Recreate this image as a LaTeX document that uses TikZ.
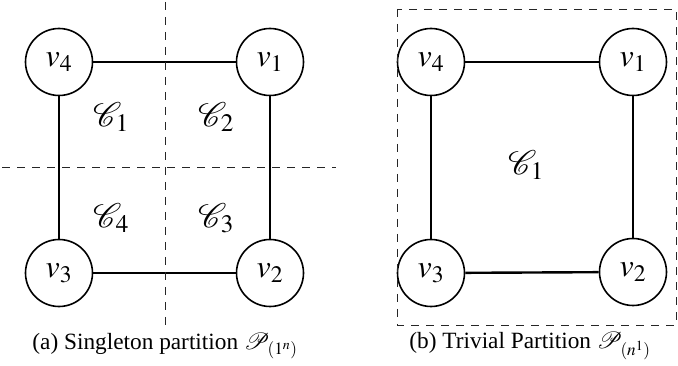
\documentclass[tikz,border=0pt]{standalone}
\usepackage{mathptmx}
\usepackage{mathrsfs}
\DeclareFontFamily{U}{rsfs}{\skewchar\font127 }
\DeclareFontShape{U}{rsfs}{m}{n}{<-6> rsfs5 <6-8> rsfs7 <8-> rsfs10}{}
\usepackage[no-math]{fontspec}
\setmainfont{Liberation Serif}
\begin{document}
\begin{tikzpicture}[x=1pt,y=-1pt,
  vert/.style={draw,circle,line width=1.6pt,minimum size=67pt,inner sep=0pt,font=\fontsize{32}{36}\selectfont},
  edge/.style={line width=2.4pt},
  part/.style={line width=0.9pt,black!85,dash pattern=on 8pt off 7pt},
  lab/.style={font=\fontsize{34}{40}\selectfont},
  captext/.style={font=\fontsize{23.3}{28}\selectfont}]
\useasboundingbox (0,0) rectangle (678,366);
% left
\node[vert] (a4) at (59,62) {$v_4$};
\node[vert] (a1) at (270,62) {$v_1$};
\node[vert] (a3) at (59,273) {$v_3$};
\node[vert] (a2) at (270,273) {$v_2$};
\draw[edge] (a4) -- (a1);
\draw[edge] (a1) -- (a2);
\draw[edge] (a2) -- (a3);
\draw[edge] (a3) -- (a4);
\coordinate (vt) at (165,2);
\coordinate (vb) at (165,328);
\coordinate (hl) at (2,167);
\coordinate (hr) at (336,167);
\draw[part] (vt) -- (vb);
\draw[part] (hl) -- (hr);
\node[lab] (c1) at (111,117) {$\mathscr{C}_1$};
\node[lab] (c2) at (216,117) {$\mathscr{C}_2$};
\node[lab] (c4) at (111,218) {$\mathscr{C}_4$};
\node[lab] (c3) at (216,218) {$\mathscr{C}_3$};
\node[captext] (capa) at (165,346) {(a) Singleton partition $\mathscr{P}_{(1^n)}$};
% right
\node[vert] (b4) at (431,62) {$v_4$};
\node[vert] (b1) at (633,62) {$v_1$};
\node[vert] (b3) at (431,273) {$v_3$};
\node[vert] (b2) at (633,272) {$v_2$};
\draw[edge] (b4) -- (b1);
\draw[edge] (b1) -- (b2);
\draw[edge] (b2) -- (b3);
\draw[edge] (b3) -- (b4);
\coordinate (rtl) at (397,9);
\coordinate (rbr) at (676,325);
\draw[part] (rtl) rectangle (rbr);
\node[lab] (d1) at (526,165) {$\mathscr{C}_1$};
\node[captext] (capb) at (530,346) {(b) Trivial Partition $\mathscr{P}_{(n^1)}$};
\end{tikzpicture}
\end{document}
